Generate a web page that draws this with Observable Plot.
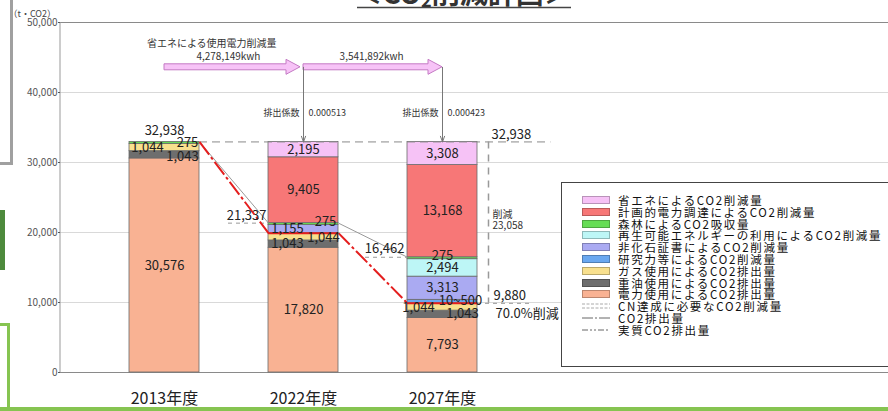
<!DOCTYPE html>
<html><head><meta charset="utf-8">
<script src="https://cdn.jsdelivr.net/npm/d3@7"></script>
<script src="https://cdn.jsdelivr.net/npm/@observablehq/plot@0.6"></script>
<style>
body{margin:0;background:#fff;font-family:"Noto Sans CJK JP","Noto Sans",sans-serif;}
#wrap{position:relative;width:888px;height:411px;overflow:hidden;}
.deco{position:absolute;box-sizing:border-box;}
#legend{position:absolute;left:561px;top:182px;width:340px;height:185px;border:1px solid #444;background:#fff;box-sizing:border-box;}
.li{position:absolute;left:20px;height:12px;display:flex;align-items:center;font-size:11.5px;letter-spacing:1.7px;line-height:12px;color:#111;white-space:nowrap;}
.sw{width:28px;height:8px;box-sizing:border-box;margin-right:8px;flex:none;}
</style></head>
<body><div id="wrap"></div>
<script>
// ---- data ----
const years = ["2013年度", "2022年度", "2027年度"];
// stacked series, bottom to top
const seriesNames = [
  "電力使用によるCO2排出量",
  "重油使用によるCO2排出量",
  "ガス使用によるCO2排出量",
  "研究力等によるCO2削減量",
  "非化石証書によるCO2削減量",
  "再生可能エネルギーの利用によるCO2削減量",
  "森林によるCO2吸収量",
  "計画的電力調達によるCO2削減量",
  "省エネによるCO2削減量"
];
const denryoku  = [30576, 17820, 7793];
const juyu      = [1043, 1043, 1043];
const gas       = [1044, 1044, 1044];
const kenkyu    = [0, 0, 500];
const hikaseki  = [0, 1155, 3313];
const saisei    = [0, 0, 2494];
const shinrin   = [275, 275, 275];
const keikaku   = [0, 9405, 13168];
const shoene    = [0, 2195, 3308];
const seriesValues = [denryoku, juyu, gas, kenkyu, hikaseki, saisei, shinrin, keikaku, shoene];
const seriesColors = ["#f9b293", "#6e6e6e", "#f8e08e", "#6aa8f0", "#aaaaf2", "#bdf6f6", "#66dd55", "#f77777", "#f6c2f6"];

const co2Emission  = [32938, 21337, 16462];  // CO2排出量
const realEmission = [32938, 19907, 9880];   // 実質CO2排出量
const yTicks = [0, 10000, 20000, 30000, 40000, 50000];
const kwh = ["4,278,149kwh", "3,541,892kwh"];
const coef = ["0.000513", "0.000423"];
const specialLabels = {"3|2": "10~500"};
// label nudges (px) for thin segments: "series|year" -> [dx, dy]
const nudges = {
  "1|0": [18, 2], "2|0": [-17, 0], "6|0": [23, 0],
  "1|1": [-16, 0], "2|1": [20, 1], "4|1": [-16, 0], "6|1": [22, -2],
  "1|2": [20, 0], "2|2": [-24, 1], "3|2": [18, -1], "6|2": [0, -2]
};

// ---- layout constants ----
const hw = 35 / 139;          // half bar width in x units
const pxX = 2 / 278, pxY = 50000 / 350;
const arrowY = 43600, noteY = 47000, kwhY = 45070, coefY = 37000;

// ---- derived table ----
const rows = [];
years.forEach((yr, i) => {
  let acc = 0;
  seriesValues.forEach((vals, j) => {
    const v = vals[i];
    if (v > 0) {
      const key = j + "|" + i;
      const [dx, dy] = nudges[key] || [0, 0];
      rows.push({i, j, name: seriesNames[j], y1: acc, y2: acc + v,
        text: specialLabels[key] || d3.format(",")(v),
        lx: i + dx * pxX, ly: acc + v / 2 - dy * pxY});
    }
    acc += v;
  });
});
const totals = years.map((_, i) => d3.sum(seriesValues, s => s[i]));

function blockArrow(x1, x2, yv) {
  return (index, scales) => {
    const X1 = scales.x(x1), X2 = scales.x(x2), Y = scales.y(yv);
    const h = 3, H = 7.5, L = 14;
    const d = `M${X1},${Y-h}L${X2-L},${Y-h}L${X2-L},${Y-H}L${X2},${Y}L${X2-L},${Y+H}L${X2-L},${Y+h}L${X1},${Y+h}Z`;
    return d3.create("svg:path").attr("d", d).attr("fill", "#f7c3f7").attr("stroke", "#c47ac4").attr("stroke-width", 1).node();
  };
}
function leftLine(index, scales, values, dims) {
  return d3.create("svg:line").attr("x1", dims.marginLeft).attr("x2", dims.marginLeft)
    .attr("y1", dims.marginTop).attr("y2", dims.height - dims.marginBottom)
    .attr("stroke", "#999").node();
}
function title(index, scales, values, dims) {
  const g = d3.create("svg:g");
  const t = g.append("text").attr("x", 463).attr("y", 4).attr("text-anchor", "middle")
    .attr("font-size", 28).attr("font-weight", "bold").attr("fill", "#333");
  t.append("tspan").text("＜CO");
  t.append("tspan").attr("font-size", 18).attr("dy", 3).text("2");
  t.append("tspan").attr("dy", -3).text("削減計画＞");
  g.append("line").attr("x1", 357).attr("x2", 571).attr("y1", 7.5).attr("y2", 7.5).attr("stroke", "#444").attr("stroke-width", 1.5);
  return g.node();
}

const segs = (arr) => [0, 1].map(i => ({x1: i + hw, y1: arr[i], x2: i + 1 - hw, y2: arr[i + 1]}));

const chart = Plot.plot({
  width: 888, height: 411,
  marginLeft: 60, marginRight: 0, marginTop: 22, marginBottom: 39,
  x: {type: "linear", domain: [0, 2], range: [164, 442], axis: null},
  y: {domain: [0, 50000], axis: null},
  color: {domain: seriesNames, range: seriesColors},
  style: {fontFamily: "'Noto Sans CJK JP', sans-serif", background: "#fff", overflow: "visible"},
  marks: [
    Plot.ruleY(yTicks.slice(1, -1), {stroke: "#d9d9d9"}),
    Plot.ruleY([50000], {stroke: "#8a8a8a", strokeWidth: 1.2}),
    Plot.ruleY([0], {stroke: "#8a8a8a", strokeWidth: 1.2}),
    leftLine,
    Plot.axisY({ticks: yTicks, tickFormat: d3.format(","), tickSize: 2, tickPadding: 1, fontSize: 10, color: "#555"}),
    Plot.text(["（t・CO2）"], {frameAnchor: "top-left", dx: -52, dy: -12, textAnchor: "start", fontSize: 9, fill: "#444"}),
    // bars
    Plot.rect(rows, {x1: d => d.i - hw, x2: d => d.i + hw, y1: "y1", y2: "y2", fill: "name", stroke: "#6a6a6a", strokeWidth: 0.8}),
    // CN dashed guides
    Plot.ruleY([totals[0]], {x1: hw, x2: 2.78, stroke: "#8a8a8a", strokeDasharray: "8,5"}),
    Plot.ruleX([2], {y1: totals[0], y2: realEmission[2], dx: 46, stroke: "#999", strokeWidth: 1.5, strokeDasharray: "7,6"}),
    Plot.ruleY([co2Emission[1]], {x1: 1 - hw - 40 * pxX, x2: 1 - hw, stroke: "#999", strokeDasharray: "4,4"}),
    Plot.ruleY([co2Emission[2]], {x1: 2 - hw - 42 * pxX, x2: 2 - hw, stroke: "#999", strokeDasharray: "4,4"}),
    Plot.ruleY([realEmission[2]], {x1: 2 + hw, x2: 2 + hw + 52 * pxX, stroke: "#999", strokeDasharray: "4,4"}),
    // emission lines
    Plot.link(segs(co2Emission), {x1: "x1", y1: "y1", x2: "x2", y2: "y2", stroke: "#999", strokeWidth: 1}),
    Plot.link(segs(realEmission), {x1: "x1", y1: "y1", x2: "x2", y2: "y2", stroke: "#e41e1e", strokeWidth: 2, strokeDasharray: "16,3,3,3"}),
    Plot.ruleY([1, 2], {y: i => realEmission[i], x1: i => i - hw, x2: i => i + hw, stroke: "#e41e1e", strokeWidth: 2}),
    // segment labels
    Plot.text(rows, {x: "lx", y: "ly", text: "text", fontSize: 13, fill: "#222"}),
    Plot.text([0], {x: 0, y: totals[0], text: () => d3.format(",")(totals[0]), dy: -11, fontSize: 13, fill: "#222"}),
    Plot.text([1], {x: 1 - hw, y: co2Emission[1], text: () => d3.format(",")(co2Emission[1]), dx: -2, dy: -7, textAnchor: "end", fontSize: 13, fill: "#222"}),
    Plot.text([2], {x: 2 - hw, y: co2Emission[2], text: () => d3.format(",")(co2Emission[2]), dx: -3, dy: -8, textAnchor: "end", fontSize: 13, fill: "#222"}),
    // right side annotations
    Plot.text([0], {x: 2 + hw, y: totals[0], text: () => d3.format(",")(totals[0]), dx: 14, dy: -7, textAnchor: "start", fontSize: 13, fill: "#222"}),
    Plot.text([0], {x: 2, y: (totals[0] + realEmission[2]) / 2, text: () => "削減", dx: 50, dy: -8, textAnchor: "start", fontSize: 10, fill: "#333"}),
    Plot.text([0], {x: 2, y: (totals[0] + realEmission[2]) / 2, text: () => d3.format(",")(totals[0] - realEmission[2]), dx: 50, dy: 3, textAnchor: "start", fontSize: 10, fill: "#333"}),
    Plot.text([0], {x: 2 + hw, y: realEmission[2], text: () => d3.format(",")(realEmission[2]), dx: 16, dy: -8, textAnchor: "start", fontSize: 13, fill: "#222"}),
    Plot.text([0], {x: 2 + hw, y: realEmission[2], text: () => d3.format(".1f")((1 - realEmission[2] / totals[0]) * 100) + "%削減", dx: 18, dy: 10, textAnchor: "start", fontSize: 13, fill: "#222"}),
    // top annotations
    Plot.text([0], {x: 0.34, y: noteY, text: () => "省エネによる使用電力削減量", fontSize: 10, fill: "#333"}),
    Plot.text([0], {x: 0.46, y: kwhY, text: () => kwh[0], fontSize: 10, fill: "#333"}),
    Plot.text([0], {x: 1.49, y: kwhY, text: () => kwh[1], fontSize: 10, fill: "#333"}),
    blockArrow(0, 1 - 3 * pxX, arrowY),
    blockArrow(1, 2, arrowY),
    Plot.arrow([1, 2], {x1: d => d, x2: d => d, y1: arrowY, y2: d => totals[d], stroke: "#777", strokeWidth: 1, headLength: 9, headAngle: 40}),
    Plot.text([1, 2], {x: d => d, y: coefY, text: () => "排出係数", dx: -4, textAnchor: "end", fontSize: 9, fill: "#333"}),
    Plot.text([1, 2], {x: d => d, y: coefY, text: d => coef[d - 1], dx: 5, textAnchor: "start", fontSize: 9, fill: "#333"}),
    // category labels
    Plot.text(years, {x: (d, i) => i, y: 0, text: d => d, dy: 26, fontSize: 16, fill: "#222"}),
    title
  ]
});

const wrap = document.getElementById("wrap");
wrap.append(chart);

// page decorations cropped from surrounding document
const decos = [
  {l: -5, t: -5, w: 18, h: 170, css: "border:3px solid #a0a0a0;"},
  {l: 0, t: 210, w: 5, h: 60, css: "background:#4d8a3c;"},
  {l: -5, t: 323, w: 15, h: 90, css: "border:3px solid #86c451;"},
  {l: 0, t: 407, w: 888, h: 4, css: "background:#86c451;"}
];
decos.forEach(d => {
  const e = document.createElement("div");
  e.className = "deco";
  e.style.cssText = `left:${d.l}px;top:${d.t}px;width:${d.w}px;height:${d.h}px;` + d.css;
  wrap.append(e);
});

// legend
const legend = document.createElement("div");
legend.id = "legend";
const items = seriesNames.map((n, j) => ({name: n, color: seriesColors[j]})).reverse();
items.push({name: "CN達成に必要なCO2削減量", kind: "cn"}, {name: "CO2排出量", kind: "co2"}, {name: "実質CO2排出量", kind: "real"});
items.forEach((it, k) => {
  const row = document.createElement("div");
  row.className = "li";
  row.style.top = (11 + k * 11.8) + "px";
  let sw;
  if (!it.kind) {
    sw = `<div class="sw" style="background:${it.color};border:1px solid ${d3.color(it.color).darker(0.8)}"></div>`;
  } else {
    let inner = "";
    if (it.kind === "cn") inner = `<line x1="0" x2="28" y1="2" y2="2" stroke="#aaa" stroke-dasharray="3,1.5"/><line x1="0" x2="28" y1="6" y2="6" stroke="#aaa" stroke-dasharray="3,1.5"/>`;
    if (it.kind === "co2") inner = `<line x1="0" x2="28" y1="4" y2="4" stroke="#666" stroke-dasharray="11,2,2,2"/>`;
    if (it.kind === "real") inner = `<line x1="0" x2="28" y1="4" y2="4" stroke="#666" stroke-dasharray="6,2,2,2,2,2"/>`;
    sw = `<svg width="28" height="8" style="margin-right:8px;flex:none">${inner}</svg>`;
  }
  row.innerHTML = sw + `<span>${it.name}</span>`;
  legend.append(row);
});
wrap.append(legend);
</script>
</body></html>
